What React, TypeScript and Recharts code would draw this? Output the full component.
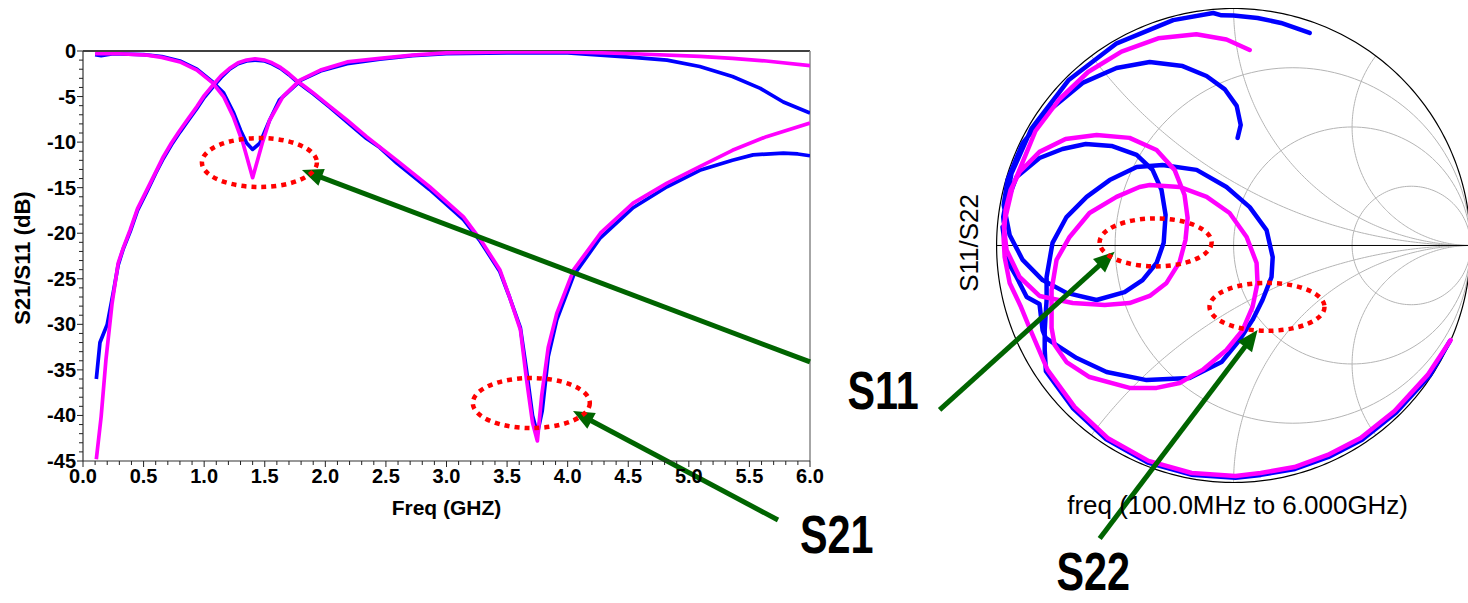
import React from 'react';
import { LineChart, Line, XAxis, YAxis, ReferenceLine, ReferenceDot } from 'recharts';

type P = [number, number];

const FONT = '"Liberation Sans", Arial, Helvetica, sans-serif';
const BLUE = '#0000ff';
const MAGENTA = '#ff00ff';
const GREEN = '#006400';
const RED = '#ff0000';

// ---------- Left chart: S21 / S11 (dB) vs frequency (GHz) ----------
const xMajorTicks = [0, 0.5, 1, 1.5, 2, 2.5, 3, 3.5, 4, 4.5, 5, 5.5, 6];
const yMajorTicks = [0, -5, -10, -15, -20, -25, -30, -35, -40, -45];

// S21 measured (blue)
const s21Meas: P[] = [
  [0.11, -36.0], [0.14, -32.0], [0.2, -30.0], [0.25, -26.5], [0.29, -23.5], [0.33, -21.8], [0.39, -19.8],
  [0.45, -17.5], [0.525, -15.5], [0.6, -13.4], [0.663, -11.8], [0.73, -10.3], [0.8, -8.9], [0.87, -7.6],
  [0.94, -6.3], [1.0, -5.1], [1.075, -3.9], [1.14, -2.9], [1.21, -2.0], [1.28, -1.4], [1.35, -1.1],
  [1.42, -1.0], [1.5, -1.1], [1.56, -1.4], [1.63, -1.9], [1.7, -2.6], [1.76, -3.3], [1.83, -4.0],
  [1.9, -4.7], [2.04, -6.2], [2.18, -7.8], [2.34, -9.6], [2.45, -10.6], [2.59, -12.3], [2.86, -15.2],
  [3.14, -18.5], [3.28, -20.9], [3.44, -24.2], [3.52, -27.0], [3.61, -30.4], [3.66, -35.0], [3.71, -40.0],
  [3.75, -42.0], [3.79, -39.5], [3.84, -33.5], [3.91, -29.5], [4.05, -24.6], [4.27, -20.5], [4.54, -17.2],
  [4.82, -14.9], [5.09, -13.1], [5.36, -12.0], [5.53, -11.4], [5.78, -11.2], [5.9, -11.3], [6.0, -11.5],
];
// S21 simulated (magenta)
const s21Sim: P[] = [
  [0.11, -44.8], [0.15, -40.1], [0.19, -33.8], [0.24, -27.7], [0.29, -23.3], [0.33, -21.7], [0.39, -19.6],
  [0.45, -17.3], [0.525, -15.3], [0.6, -13.3], [0.663, -11.6], [0.73, -10.1], [0.8, -8.7], [0.87, -7.4],
  [0.94, -6.1], [1.0, -4.9], [1.075, -3.7], [1.14, -2.7], [1.21, -1.9], [1.28, -1.3], [1.35, -1.0],
  [1.42, -0.85], [1.5, -1.0], [1.56, -1.3], [1.63, -1.8], [1.7, -2.5], [1.76, -3.2], [1.83, -3.9],
  [1.9, -4.6], [2.04, -6.1], [2.18, -7.6], [2.34, -9.4], [2.59, -12.0], [2.86, -14.9], [3.14, -18.2],
  [3.28, -20.7], [3.44, -24.0], [3.52, -27.0], [3.61, -30.6], [3.66, -36.0], [3.71, -40.8], [3.75, -42.8],
  [3.785, -37.9], [3.84, -32.5], [3.91, -28.8], [4.05, -24.0], [4.27, -20.0], [4.54, -16.7], [4.82, -14.5],
  [5.09, -12.7], [5.36, -10.9], [5.64, -9.4], [6.0, -7.9],
];
// S11 measured (blue)
const s11Meas: P[] = [
  [0.1, -0.4], [0.15, -0.5], [0.25, -0.3], [0.5, -0.4], [0.65, -0.6], [0.8, -1.1], [0.94, -2.0], [1.07, -3.4],
  [1.16, -4.6], [1.24, -6.7], [1.3, -8.7], [1.35, -10.1], [1.4, -10.8], [1.46, -10.1], [1.54, -7.6],
  [1.62, -5.4], [1.71, -4.3], [1.8, -3.2], [1.96, -2.2], [2.18, -1.4], [2.45, -0.9], [2.72, -0.5],
  [3.0, -0.3], [3.5, -0.2], [4.0, -0.2], [4.54, -0.7], [4.82, -1.0], [5.09, -1.7], [5.36, -2.8],
  [5.59, -4.1], [5.78, -5.6], [6.0, -6.8],
];
// S11 simulated (magenta)
const s11Sim: P[] = [
  [0.1, -0.3], [0.3, -0.3], [0.53, -0.45], [0.65, -0.7], [0.8, -1.2], [0.94, -2.1], [1.07, -3.5],
  [1.16, -5.0], [1.24, -7.2], [1.32, -10.1], [1.4, -13.9], [1.48, -10.1], [1.54, -7.6], [1.65, -5.0],
  [1.79, -3.2], [1.96, -2.1], [2.18, -1.2], [2.45, -0.8], [2.72, -0.45], [3.0, -0.2], [3.5, -0.1],
  [4.0, -0.1], [4.54, -0.3], [5.09, -0.6], [5.36, -0.8], [5.64, -1.1], [6.0, -1.6],
];

// annotations on the left chart (data units)
const leftEllipses = [
  { f: 1.456, db: -12.24, rx: 57.5, ry: 24.5 },
  { f: 3.7, db: -38.64, rx: 58.5, ry: 25 },
];
const leftArrows = [
  { from: { f: 6.0, db: -34.13 }, to: { f: 1.807, db: -13.06 } },
  { from: { f: 5.736, db: -51.48 }, to: { f: 4.044, db: -39.51 } },
];
const leftLabels = [{ text: 'S21', f: 5.917, db: -55.1 }];

// ---------- Smith chart (reflection coefficient, real/imag) ----------
const smithBlueS11: P[] = [
  [0.321, 0.897], [0.2, 0.939], [0.101, 0.96], [0.0, 0.97], [-0.051, 0.971], [-0.086, 0.981], [-0.255, 0.951],
  [-0.493, 0.853], [-0.697, 0.697], [-0.853, 0.493], [-0.937, 0.304], [-0.972, 0.121],
  [-0.97, 0.099], [-0.945, 0.213], [-0.916, 0.289], [-0.819, 0.369], [-0.722, 0.407], [-0.624, 0.428],
  [-0.515, 0.42], [-0.409, 0.382], [-0.342, 0.319], [-0.304, 0.234], [-0.287, 0.129], [-0.295, 0.011],
  [-0.325, -0.074], [-0.384, -0.146], [-0.46, -0.197], [-0.578, -0.23], [-0.705, -0.2], [-0.806, -0.146],
  [-0.89, -0.061], [-0.945, 0.044],
  [-0.97, 0.171], [-0.954, 0.276], [-0.89, 0.432], [-0.776, 0.572], [-0.637, 0.686], [-0.494, 0.749],
  [-0.354, 0.774], [-0.215, 0.757], [-0.114, 0.715], [-0.038, 0.66], [0.013, 0.589], [0.03, 0.508], [0.017, 0.454],
];
const smithBlueS22: P[] = [
  [0.912, -0.405], [0.826, -0.551], [0.686, -0.705], [0.542, -0.82], [0.401, -0.892], [0.259, -0.943],
  [0.115, -0.968], [0.008, -0.98], [-0.179, -0.967], [-0.362, -0.916], [-0.537, -0.818], [-0.677, -0.687],
  [-0.792, -0.53], [-0.797, -0.441], [-0.797, -0.357], [-0.789, -0.23], [-0.789, -0.133], [-0.764, 0.011],
  [-0.705, 0.12], [-0.62, 0.205], [-0.523, 0.276], [-0.409, 0.331], [-0.3, 0.34], [-0.156, 0.319],
  [-0.03, 0.247], [0.068, 0.162], [0.139, 0.065], [0.165, -0.049], [0.16, -0.133], [0.122, -0.23],
  [0.08, -0.314], [0.025, -0.399], [-0.051, -0.492], [-0.186, -0.559], [-0.367, -0.568], [-0.536, -0.534],
  [-0.662, -0.475], [-0.747, -0.42], [-0.793, -0.39], [-0.806, -0.357], [-0.819, -0.247], [-0.873, -0.217],
  [-0.916, -0.133], [-0.945, -0.082], [-0.962, -0.019], [-0.975, 0.078],
];
const smithMagS11: P[] = [
  [0.916, -0.399], [0.819, -0.546], [0.679, -0.698], [0.536, -0.812], [0.397, -0.884], [0.257, -0.935],
  [0.114, -0.96], [0.008, -0.973], [-0.177, -0.96], [-0.359, -0.909], [-0.532, -0.812], [-0.671, -0.681],
  [-0.785, -0.525], [-0.861, -0.348], [-0.899, -0.255], [-0.945, -0.158], [-0.966, -0.049], [-0.97, 0.023],
  [-0.962, 0.15], [-0.941, 0.234], [-0.903, 0.31], [-0.819, 0.395], [-0.709, 0.449], [-0.578, 0.466],
  [-0.439, 0.454], [-0.325, 0.403], [-0.249, 0.319], [-0.207, 0.213], [-0.194, 0.116], [-0.203, 0.023],
  [-0.228, -0.07], [-0.283, -0.158], [-0.354, -0.213], [-0.439, -0.243], [-0.544, -0.251], [-0.679, -0.243],
  [-0.819, -0.213], [-0.903, -0.133], [-0.958, -0.019], [-0.97, 0.086],
  [-0.932, 0.25], [-0.836, 0.483], [-0.735, 0.617], [-0.614, 0.732], [-0.473, 0.818], [-0.318, 0.874],
  [-0.157, 0.891], [-0.03, 0.869], [0.068, 0.825],
];
const smithMagS22: P[] = [
  [-0.768, -0.272], [-0.768, -0.188], [-0.747, -0.061], [-0.692, 0.036], [-0.608, 0.137], [-0.494, 0.205],
  [-0.397, 0.247], [-0.354, 0.255], [-0.228, 0.247], [-0.114, 0.205], [-0.017, 0.137], [0.055, 0.036],
  [0.097, -0.074], [0.101, -0.158], [0.08, -0.259], [0.038, -0.357], [-0.03, -0.441], [-0.131, -0.525],
  [-0.228, -0.58], [-0.325, -0.601], [-0.439, -0.601], [-0.608, -0.555], [-0.705, -0.492], [-0.755, -0.42],
  [-0.768, -0.348], [-0.768, -0.251],
];

const smithEllipses = [
  { u: -0.329, v: 0.013, rx: 56, ry: 24 },
  { u: 0.141, v: -0.259, rx: 57.5, ry: 24 },
];
const smithArrows = [
  { from: { u: -1.2405, v: -0.694 }, to: { u: -0.502, v: -0.026 } },
  { from: { u: -0.565, v: -1.236 }, to: { u: 0.101, v: -0.357 } },
];
const smithBigLabels = [
  { text: 'S11', u: -1.629, v: -0.69 },
  { text: 'S22', u: -0.747, v: -1.455 },
];
const smithFreqLabel = { text: 'freq (100.0MHz to 6.000GHz)', u: 0.017, v: -1.133 };
const smithAxisLabel = { text: 'S11/S22', u: -1.118, v: 0.011 };

// Smith grid values
const resistanceValues = [1 / 3, 1, 3];
const reactanceValues = [0.5, 1, 2];

// ---------- helpers ----------
const toFD = (arr: P[]) => arr.map(([f, db]) => ({ f, db }));
const toUV = (arr: P[]) => arr.map(([u, v]) => ({ u, v }));

const arc = (cx: number, cy: number, r: number, a0: number, a1: number, n = 160) => {
  const pts: { u: number; v: number }[] = [];
  for (let i = 0; i <= n; i++) {
    const a = a0 + ((a1 - a0) * i) / n;
    pts.push({ u: cx + r * Math.cos(a), v: cy + r * Math.sin(a) });
  }
  return pts;
};

const gridCurves: { u: number; v: number }[][] = [];
resistanceValues.forEach((r) => gridCurves.push(arc(r / (1 + r), 0, 1 / (1 + r), 0, 2 * Math.PI)));
reactanceValues.forEach((x) => {
  const R = 1 / x;
  const ix = (x * x - 1) / (x * x + 1);
  const iy = (2 * x) / (x * x + 1);
  let a0 = Math.atan2(iy - R, ix - 1);
  if (a0 < 0) a0 += 2 * Math.PI;
  const up = arc(1, R, R, a0, 1.5 * Math.PI);
  gridCurves.push(up);
  gridCurves.push(up.map((p) => ({ u: p.u, v: -p.v })));
});
const unitCircle = arc(0, 0, 1, 0, 2 * Math.PI, 360);
const realAxis = [{ u: -1, v: 0 }, { u: 1, v: 0 }];

const isMult = (v: number, step: number) => Math.abs(v / step - Math.round(v / step)) < 1e-6;
const xAllTicks = Array.from({ length: 61 }, (_, i) => i / 10);
const yAllTicks = Array.from({ length: 46 }, (_, i) => -i);

const XTick = (props: any) => {
  const { x, y, payload } = props;
  const v = payload.value as number;
  const major = isMult(v, 0.5);
  return (
    <g>
      <line x1={x} y1={y} x2={x} y2={y + (major ? 6 : 4)} stroke="#222" strokeWidth={1} />
      {major && (
        <text x={x} y={y + 22} textAnchor="middle" fontFamily={FONT} fontWeight="bold" fontSize={20} fill="#000">
          {xMajorTicks.includes(Math.round(v * 10) / 10) ? v.toFixed(1) : ''}
        </text>
      )}
    </g>
  );
};

const YTick = (props: any) => {
  const { x, y, payload } = props;
  const v = payload.value as number;
  const major = isMult(v, 5);
  return (
    <g>
      <line x1={x} y1={y} x2={x - (major ? 6 : 4)} y2={y} stroke="#222" strokeWidth={1} />
      {major && yMajorTicks.includes(Math.round(v)) && (
        <text x={x - 7} y={y + 7} textAnchor="end" fontFamily={FONT} fontWeight="bold" fontSize={20} fill="#000">
          {String(Math.round(v))}
        </text>
      )}
    </g>
  );
};

const YTitle = (props: any) => {
  const vb = props.viewBox || { x: 0, y: 51, width: 83, height: 410 };
  const cx = vb.x + 22;
  const cy = vb.y + vb.height / 2 + 2;
  return (
    <text x={cx} y={cy} transform={`rotate(-90 ${cx} ${cy})`} textAnchor="middle" dominantBaseline="central"
      fontFamily={FONT} fontWeight="bold" fontSize={22} fill="#000">S21/S11 (dB)</text>
  );
};

const XTitle = (props: any) => {
  const vb = props.viewBox || { x: 83, y: 461, width: 727, height: 142 };
  return (
    <text x={vb.x + vb.width / 2} y={vb.y + 54} textAnchor="middle" fontFamily={FONT} fontWeight="bold"
      fontSize={21} fill="#000">Freq (GHZ)</text>
  );
};

const ArrowShape = (p: any) => {
  const { x1, y1, x2, y2 } = p;
  if ([x1, y1, x2, y2].some((n) => typeof n !== 'number' || isNaN(n))) return <g />;
  const dx = x2 - x1;
  const dy = y2 - y1;
  const len = Math.hypot(dx, dy) || 1;
  const ux = dx / len;
  const uy = dy / len;
  const hl = 21;
  const hw = 9;
  const bx = x2 - ux * hl;
  const by = y2 - uy * hl;
  const px = -uy;
  const py = ux;
  return (
    <g>
      <line x1={x1} y1={y1} x2={bx + ux * 3} y2={by + uy * 3} stroke={GREEN} strokeWidth={5} />
      <polygon points={`${x2},${y2} ${bx + px * hw},${by + py * hw} ${bx - px * hw},${by - py * hw}`} fill={GREEN} />
    </g>
  );
};

const ellipseShape = (rx: number, ry: number) => (p: any) => (
  <ellipse cx={p.cx} cy={p.cy} rx={rx} ry={ry} fill="none" stroke={RED} strokeWidth={4.5} strokeDasharray="5 5" />
);

const bigTextShape = (text: string) => (p: any) => (
  <g transform={`translate(${p.cx} ${p.cy}) scale(0.78 1)`}>
    <text x={0} y={0} fontFamily={FONT} fontWeight="bold" fontSize={53} fill="#000">{text}</text>
  </g>
);

// Smith chart layout
const SMITH_CX = 1234;
const SMITH_CY = 245.5;
const SMITH_R = 237;
const U_DOMAIN: [number, number] = [-1.8, 1.0];
const V_DOMAIN: [number, number] = [-1.52, 1.04];

export default function App() {
  const smithLeft = SMITH_CX + U_DOMAIN[0] * SMITH_R;
  const smithTop = SMITH_CY - V_DOMAIN[1] * SMITH_R;
  const smithW = (U_DOMAIN[1] - U_DOMAIN[0]) * SMITH_R;
  const smithH = (V_DOMAIN[1] - V_DOMAIN[0]) * SMITH_R;

  return (
    <div style={{ position: 'absolute', left: 0, top: 0, width: 1468, height: 603, overflow: 'hidden', background: '#fff' }}>
      <div style={{ position: 'absolute', left: 0, top: 0 }}>
        <LineChart width={900} height={603} margin={{ top: 51, right: 90, bottom: 0, left: 0 }}>
          <XAxis type="number" dataKey="f" domain={[0, 6]} ticks={xAllTicks} interval={0} tickLine={false}
            tickSize={0} tickMargin={0} tick={XTick} height={142} axisLine={{ stroke: '#333', strokeWidth: 1.2 }}
            allowDataOverflow label={XTitle} />
          <YAxis type="number" domain={[-45, 0]} ticks={yAllTicks} interval={0} tickLine={false}
            tickSize={0} tickMargin={0} tick={YTick} width={83} axisLine={{ stroke: '#333', strokeWidth: 1.2 }}
            allowDataOverflow label={YTitle} />
          <ReferenceLine y={0} stroke="#000" strokeWidth={1.5} ifOverflow="visible" />
          <ReferenceLine x={6} stroke="#888" strokeWidth={1.5} ifOverflow="visible" />
          <Line data={toFD(s21Meas)} dataKey="db" stroke={BLUE} strokeWidth={3.7} dot={false} isAnimationActive={false} strokeLinejoin="round" />
          <Line data={toFD(s11Meas)} dataKey="db" stroke={BLUE} strokeWidth={3.7} dot={false} isAnimationActive={false} strokeLinejoin="round" />
          <Line data={toFD(s21Sim)} dataKey="db" stroke={MAGENTA} strokeWidth={3.7} dot={false} isAnimationActive={false} strokeLinejoin="round" />
          <Line data={toFD(s11Sim)} dataKey="db" stroke={MAGENTA} strokeWidth={3.7} dot={false} isAnimationActive={false} strokeLinejoin="round" />
          {leftEllipses.map((e, i) => (
            <ReferenceDot key={`le${i}`} x={e.f} y={e.db} r={1} ifOverflow="visible" shape={ellipseShape(e.rx, e.ry)} />
          ))}
          {leftArrows.map((a, i) => (
            <ReferenceLine key={`la${i}`} segment={[{ x: a.from.f, y: a.from.db }, { x: a.to.f, y: a.to.db }]}
              ifOverflow="visible" shape={ArrowShape} />
          ))}
          {leftLabels.map((l, i) => (
            <ReferenceDot key={`ll${i}`} x={l.f} y={l.db} r={1} ifOverflow="visible" shape={bigTextShape(l.text)} />
          ))}
        </LineChart>
      </div>

      <div style={{ position: 'absolute', left: smithLeft, top: smithTop }}>
        <LineChart width={smithW} height={smithH} margin={{ top: 0, right: 0, bottom: 0, left: 0 }}>
          <XAxis type="number" dataKey="u" domain={U_DOMAIN} hide allowDataOverflow />
          <YAxis type="number" domain={V_DOMAIN} hide allowDataOverflow />
          {gridCurves.map((c, i) => (
            <Line key={`g${i}`} data={c} dataKey="v" stroke="#b4b4b4" strokeWidth={1} dot={false} isAnimationActive={false} />
          ))}
          <Line data={unitCircle} dataKey="v" stroke="#000" strokeWidth={1.2} dot={false} isAnimationActive={false} />
          <Line data={realAxis} dataKey="v" stroke="#000" strokeWidth={1} dot={false} isAnimationActive={false} />
          <Line data={toUV(smithBlueS22)} dataKey="v" stroke={BLUE} strokeWidth={4.5} dot={false} isAnimationActive={false} strokeLinejoin="round" strokeLinecap="round" />
          <Line data={toUV(smithBlueS11)} dataKey="v" stroke={BLUE} strokeWidth={4.5} dot={false} isAnimationActive={false} strokeLinejoin="round" strokeLinecap="round" />
          <Line data={toUV(smithMagS22)} dataKey="v" stroke={MAGENTA} strokeWidth={4.5} dot={false} isAnimationActive={false} strokeLinejoin="round" strokeLinecap="round" />
          <Line data={toUV(smithMagS11)} dataKey="v" stroke={MAGENTA} strokeWidth={4.5} dot={false} isAnimationActive={false} strokeLinejoin="round" strokeLinecap="round" />
          {smithEllipses.map((e, i) => (
            <ReferenceDot key={`se${i}`} x={e.u} y={e.v} r={1} ifOverflow="visible" shape={ellipseShape(e.rx, e.ry)} />
          ))}
          {smithArrows.map((a, i) => (
            <ReferenceLine key={`sa${i}`} segment={[{ x: a.from.u, y: a.from.v }, { x: a.to.u, y: a.to.v }]}
              ifOverflow="visible" shape={ArrowShape} />
          ))}
          {smithBigLabels.map((l, i) => (
            <ReferenceDot key={`sl${i}`} x={l.u} y={l.v} r={1} ifOverflow="visible" shape={bigTextShape(l.text)} />
          ))}
          <ReferenceDot x={smithFreqLabel.u} y={smithFreqLabel.v} r={1} ifOverflow="visible"
            shape={(p: any) => (
              <text x={p.cx} y={p.cy} textAnchor="middle" fontFamily={FONT} fontSize={26} fill="#000">{smithFreqLabel.text}</text>
            )} />
          <ReferenceDot x={smithAxisLabel.u} y={smithAxisLabel.v} r={1} ifOverflow="visible"
            shape={(p: any) => (
              <text x={p.cx} y={p.cy} transform={`rotate(-90 ${p.cx} ${p.cy})`} textAnchor="middle" dominantBaseline="central"
                fontFamily={FONT} fontSize={26} fill="#000">{smithAxisLabel.text}</text>
            )} />
        </LineChart>
      </div>
    </div>
  );
}
